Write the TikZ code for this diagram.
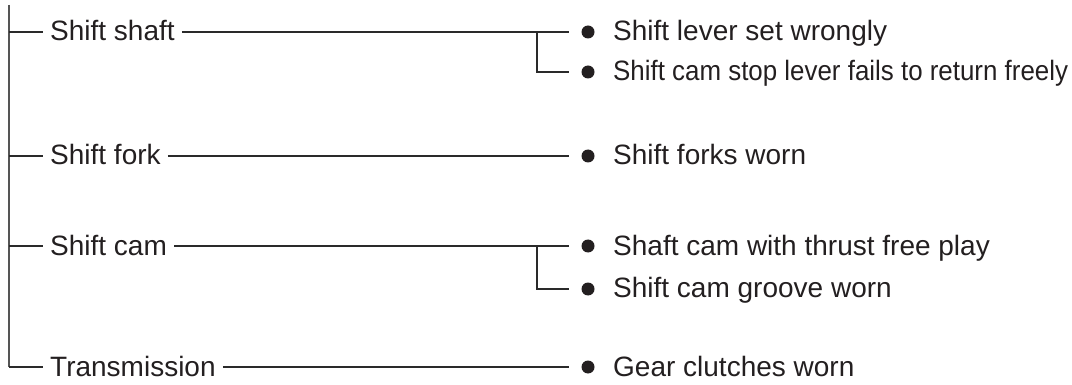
\documentclass[tikz,border=0pt]{standalone}
\usepackage{fontspec}
\setmainfont{Liberation Sans}
\definecolor{txt}{HTML}{231F20}
\definecolor{ln}{HTML}{2A2A2A}
\begin{document}
\begin{tikzpicture}[x=1pt,y=-1pt,
  lbl/.style={anchor=west, inner xsep=7pt, inner ysep=0pt, text height=18pt, text depth=0pt,
    font=\fontsize{28}{30}\selectfont, text=txt},
  dot/.style={circle, fill=txt, draw=none, minimum size=13pt, inner sep=0pt},
  conn/.style={draw=ln, line width=1.2pt},
  spine/.style={draw=ln!80, line width=1.7pt}]
\useasboundingbox (0,0) rectangle (1072,385);
% left labels
\node[lbl] (sshaft) at (43,32) {Shift shaft};
\node[lbl] (sfork) at (43,156) {Shift fork};
\node[lbl] (scam) at (43,246) {Shift cam};
\node[lbl] (trans) at (43,367) {Transmission};
% right items
\node[dot] (d1) at (588,32) {};
\node[lbl] (t1) at (606,32) {Shift lever set wrongly};
\node[dot] (d2) at (588,72) {};
\node[lbl] (t2) at (606,72) {\scalebox{0.925}[1]{Shift cam stop lever fails to return freely}};
\node[dot] (d3) at (588,156) {};
\node[lbl] (t3) at (606,156) {Shift forks worn};
\node[dot] (d4) at (588,246) {};
\node[lbl] (t4) at (606,246) {Shaft cam with thrust free play};
\node[dot] (d5) at (588,289) {};
\node[lbl] (t5) at (606,289) {Shift cam groove worn};
\node[dot] (d6) at (588,367) {};
\node[lbl] (t6) at (606,367) {Gear clutches worn};
% spine
\coordinate (top) at (9,5);
\coordinate (bot) at (9,367);
\draw[spine] (top) -- (bot);
\draw[conn] (bot) -- (trans.west);
\draw[conn] (sshaft.west -| top) -- (sshaft.west);
\draw[conn] (sfork.west -| top) -- (sfork.west);
\draw[conn] (scam.west -| top) -- (scam.west);
% right connectors
\coordinate (j1) at (537,32);
\coordinate (j2) at (537,246);
\draw[conn] (sshaft.east) -- (j1) -- ([xshift=-12pt]d1.west);
\draw[conn] (j1) |- ([xshift=-12pt]d2.west);
\draw[conn] (sfork.east) -- ([xshift=-12pt]d3.west);
\draw[conn] (scam.east) -- (j2) -- ([xshift=-12pt]d4.west);
\draw[conn] (j2) |- ([xshift=-12pt]d5.west);
\draw[conn] (trans.east) -- ([xshift=-12pt]d6.west);
\end{tikzpicture}
\end{document}
